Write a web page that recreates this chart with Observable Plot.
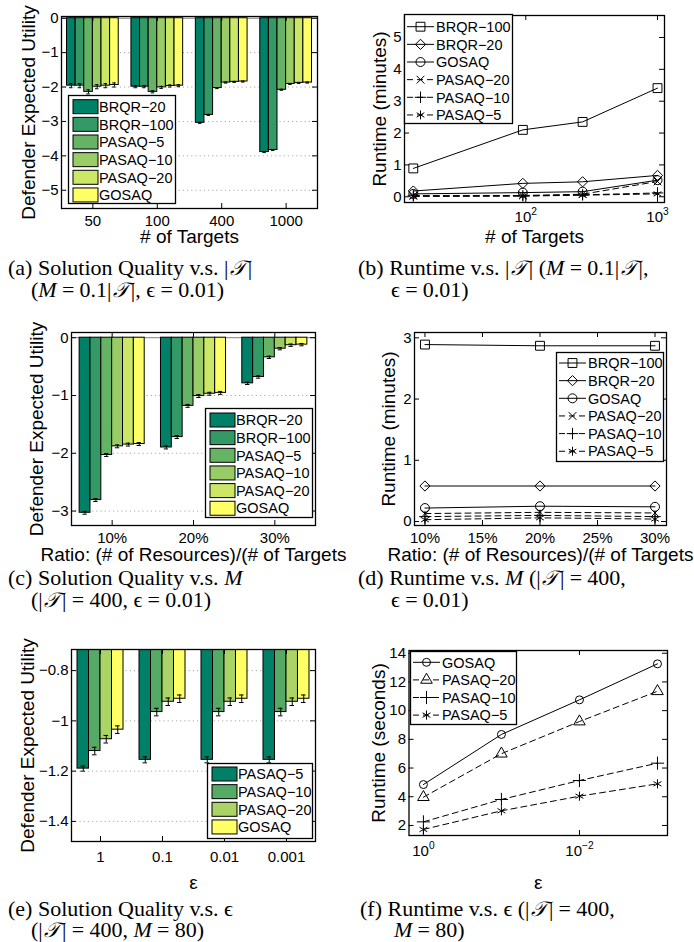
<!DOCTYPE html>
<html><head><meta charset="utf-8">
<script src="https://cdn.jsdelivr.net/npm/d3@7"></script>
<script src="https://cdn.jsdelivr.net/npm/@observablehq/plot@0.6"></script>
<style>
body{margin:0;background:#fff;}
#fig{position:relative;width:694px;height:942px;overflow:hidden;background:#fff;}
.cap{position:absolute;font-family:"Liberation Serif","Times New Roman",serif;font-size:22px;line-height:22px;white-space:nowrap;color:#000;}
.cal{font-family:"DejaVu Serif","Liberation Serif",serif;font-style:italic;font-size:0.95em;padding:0 0.08em;}
.eq{padding:0 0.24em;}
</style></head><body><div id="fig"></div><script>
// ---------------- DATA ----------------
// (a) solution quality vs # targets
const targetGroups = ["50", "100", "400", "1000"];
const seriesSix = ["BRQR−20", "BRQR−100", "PASAQ−5", "PASAQ−10", "PASAQ−20", "GOSAQ"];
const a_BRQR20  = [-1.96, -1.99, -3.04, -3.89];
const a_BRQR100 = [-1.96, -1.99, -2.81, -3.83];
const a_PASAQ5  = [-2.14, -2.14, -2.03, -2.08];
const a_PASAQ10 = [-1.99, -2.01, -1.87, -1.91];
const a_PASAQ20 = [-1.96, -1.97, -1.85, -1.88];
const a_GOSAQ   = [-1.94, -1.96, -1.84, -1.87];
const a_err     = [0.06, 0.03, 0.015, 0.015];

// (b) runtime (minutes) vs # targets (positions)
const b_x       = [14, 95, 270, 1000];
const b_BRQR100 = [0.89, 2.10, 2.35, 3.41];
const b_BRQR20  = [0.18, 0.42, 0.47, 0.67];
const b_GOSAQ   = [0.09, 0.13, 0.16, 0.52];
const b_PASAQ20 = [0.03, 0.04, 0.08, 0.48];
const b_PASAQ10 = [0.03, 0.03, 0.06, 0.12];
const b_PASAQ5  = [0.01, 0.02, 0.05, 0.09];

// (c) solution quality vs resource ratio
const ratioGroups = ["10%", "20%", "30%"];
const c_BRQR20  = [-3.03, -1.90, -0.79];
const c_BRQR100 = [-2.81, -1.72, -0.68];
const c_PASAQ5  = [-2.03, -1.18, -0.34];
const c_PASAQ10 = [-1.88, -1.01, -0.19];
const c_PASAQ20 = [-1.85, -0.97, -0.13];
const c_GOSAQ   = [-1.84, -0.955, -0.12];
const c_err     = [0.025, 0.025, 0.02];

// (d) runtime (minutes) vs resource ratio (%)
const d_x       = [10, 20, 30];
const d_BRQR100 = [2.89, 2.87, 2.87];
const d_BRQR20  = [0.58, 0.58, 0.58];
const d_GOSAQ   = [0.22, 0.25, 0.24];
const d_PASAQ20 = [0.13, 0.15, 0.14];
const d_PASAQ10 = [0.08, 0.10, 0.08];
const d_PASAQ5  = [0.03, 0.06, 0.04];

// (e) solution quality vs epsilon
const epsGroups = ["1", "0.1", "0.01", "0.001"];
const seriesFour = ["PASAQ−5", "PASAQ−10", "PASAQ−20", "GOSAQ"];
const e_PASAQ5  = [-1.19, -1.155, -1.155, -1.155];
const e_PASAQ10 = [-1.12, -0.965, -0.965, -0.965];
const e_PASAQ20 = [-1.073, -0.924, -0.924, -0.924];
const e_GOSAQ   = [-1.035, -0.912, -0.912, -0.912];
const e_err5    = [0.01, 0.012, 0.012, 0.012];
const e_errOther = [0.015, 0.015, 0.015, 0.015];

// (f) runtime (seconds) vs epsilon
const f_x       = [1, 0.1, 0.01, 0.001];
const f_GOSAQ   = [4.85, 8.34, 10.75, 13.26];
const f_PASAQ20 = [3.97, 7.0, 9.24, 11.35];
const f_PASAQ10 = [2.25, 3.81, 5.13, 6.34];
const f_PASAQ5  = [1.72, 3.02, 4.04, 4.90];

// colours (MATLAB "summer" map)
const sixColors  = ["#008066", "#339966", "#66b366", "#99cc66", "#cce666", "#ffff66"];
const fourColors = ["#008066", "#55aa66", "#aad466", "#ffff66"];

// ---------------- HELPERS ----------------
const FONT = '"Liberation Sans", Arial, Helvetica, sans-serif';
const fig = document.getElementById("fig");
function place(el, left, top) {
  el.style.position = "absolute"; el.style.left = left + "px"; el.style.top = top + "px";
  fig.appendChild(el);
}
function base(width, height, m) {
  return {width, height, marginTop: m[0], marginRight: m[1], marginBottom: m[2], marginLeft: m[3],
    style: {fontFamily: FONT, fontSize: "15px", background: "transparent", overflow: "visible", color: "black"}};
}
function inward(xTicks, yTicks, fw, fh, len = 5) {
  return [
    Plot.ruleX(xTicks, {x: d => d, insetTop: fh - len, stroke: "black"}),
    Plot.ruleX(xTicks, {x: d => d, insetBottom: fh - len, stroke: "black"}),
    Plot.ruleY(yTicks, {y: d => d, insetRight: fw - len, stroke: "black"}),
    Plot.ruleY(yTicks, {y: d => d, insetLeft: fw - len, stroke: "black"})
  ];
}
const fmtNum = d => String(d).replace("-", "−");
function superscripts(svg) {
  svg.querySelectorAll("text").forEach(t => {
    const mm = /^10\^(.+)$/.exec(t.textContent);
    if (mm) {
      t.textContent = "";
      const a = document.createElementNS("http://www.w3.org/2000/svg", "tspan");
      a.textContent = "10";
      const b = document.createElementNS("http://www.w3.org/2000/svg", "tspan");
      b.textContent = mm[1]; b.setAttribute("dy", "-0.75em"); b.setAttribute("font-size", "0.68em");
      t.appendChild(a); t.appendChild(b);
    }
  });
}
function labels(c) {
  return [
    Plot.text([c.xlabel], {text: d => d, frameAnchor: "bottom", textAnchor: "middle", lineAnchor: "middle", dy: c.xlabDy, fontSize: 19}),
    Plot.text([c.ylabel], {text: d => d, frameAnchor: "left", textAnchor: "middle", lineAnchor: "middle", dx: c.ylabDx, rotate: -90, fontSize: 19})
  ];
}

function barChart(c) {
  const n = c.series.length, bw = c.groupFrac / n;
  const rows = [];
  c.groups.forEach((g, gi) => c.series.forEach((s, si) => {
    const x1 = gi - c.groupFrac / 2 + si * bw;
    rows.push({s, x1, x2: x1 + bw, xc: x1 + bw / 2, v: c.values[si][gi], e: c.errs[si][gi]});
  }));
  const fw = c.width - c.m[1] - c.m[3], fh = c.height - c.m[0] - c.m[2];
  const idx = c.groups.map((_, i) => i);
  const cap = bw * 0.2;
  return Plot.plot({
    ...base(c.width, c.height, c.m),
    x: {domain: c.xDomain, axis: null},
    y: {domain: c.yDomain, axis: null},
    color: {domain: c.series, range: c.colors},
    marks: [
      Plot.ruleY(c.yTicks.filter(t => t !== 0), {y: d => d, stroke: "#a8a8a8", strokeDasharray: "1.2,3"}),
      Plot.ruleY(c.yTicks.filter(t => t === 0), {y: d => d, stroke: "#808080"}),
      Plot.rect(rows, {x1: "x1", x2: "x2", y1: 0, y2: "v", fill: "s", stroke: "black", strokeWidth: 1, clip: true}),
      Plot.ruleX(rows, {x: "xc", y1: d => d.v - d.e, y2: d => d.v + d.e, stroke: "black"}),
      Plot.ruleY(rows, {y: d => d.v - d.e, x1: d => d.xc - cap, x2: d => d.xc + cap, stroke: "black"}),
      Plot.ruleY(rows, {y: d => d.v + d.e, x1: d => d.xc - cap, x2: d => d.xc + cap, stroke: "black"}),
      ...inward(idx, c.yTicks, fw, fh),
      Plot.frame({stroke: "black", strokeWidth: 1.3}),
      Plot.axisX(idx, {tickFormat: i => c.groups[i], tickSize: 0, tickPadding: c.xTickPad, label: null}),
      Plot.axisY(c.yTicks, {tickFormat: fmtNum, tickSize: 0, tickPadding: 3, label: null}),
      ...labels(c)
    ]
  });
}

function lineChart(c) {
  const fw = c.width - c.m[1] - c.m[3], fh = c.height - c.m[0] - c.m[2];
  const marks = [];
  c.series.forEach(s => {
    const rows = c.x.map((xv, i) => ({x: xv, y: s.values[i]}));
    marks.push(Plot.line(rows, {x: "x", y: "y", stroke: "black", strokeWidth: 1, strokeDasharray: s.dash ? "6,4" : null}));
    marks.push(Plot.dot(rows, {x: "x", y: "y", symbol: s.symbol, r: s.r, stroke: "black", fill: "none", strokeWidth: 1}));
  });
  const svg = Plot.plot({
    ...base(c.width, c.height, c.m),
    x: {type: c.xType, domain: c.xDomain, axis: null},
    y: {domain: c.yDomain, axis: null},
    marks: [
      ...marks,
      ...inward(c.xTicks, c.yTicks, fw, fh),
      Plot.frame({stroke: "black", strokeWidth: 1.3}),
      Plot.axisX(c.xTicks, {tickFormat: c.xFormat, tickSize: 0, tickPadding: c.xTickPad, label: null}),
      Plot.axisY(c.yTicks, {tickFormat: fmtNum, tickSize: 0, tickPadding: 3, label: null}),
      ...labels(c)
    ]
  });
  superscripts(svg);
  return svg;
}

const symbolMap = {square: d3.symbolSquare, diamond2: d3.symbolDiamond2, circle: d3.symbolCircle,
  times: d3.symbolTimes, plus: d3.symbolPlus, asterisk: d3.symbolAsterisk, triangle: d3.symbolTriangle};
function legend(L) {
  const ns = "http://www.w3.org/2000/svg";
  const svg = document.createElementNS(ns, "svg");
  svg.setAttribute("width", L.w); svg.setAttribute("height", L.h);
  svg.style.overflow = "visible";
  let html = `<rect x="0.5" y="0.5" width="${L.w - 1}" height="${L.h - 1}" fill="white" stroke="black" stroke-width="1.3"/>`;
  L.entries.forEach((e, i) => {
    const y = L.y0 + i * L.dy;
    if (e.color) {
      html += `<rect x="5" y="${y - 7}" width="25" height="14" fill="${e.color}" stroke="black" stroke-width="1"/>`;
      html += `<text x="31" y="${y}" dy="0.36em" font-size="14.5" font-family='${FONT}'>${e.label}</text>`;
    } else {
      html += `<line x1="3" x2="30" y1="${y}" y2="${y}" stroke="black" ${e.dash ? 'stroke-dasharray="6,4"' : ""}/>`;
      const p = d3.symbol(symbolMap[e.symbol], Math.PI * e.r * e.r)();
      html += `<path d="${p}" transform="translate(16.5,${y})" fill="none" stroke="black"/>`;
      html += `<text x="32" y="${y}" dy="0.36em" font-size="14.5" font-family='${FONT}'>${e.label}</text>`;
    }
  });
  svg.innerHTML = html;
  place(svg, L.left, L.top);
}
function caption(html, left, centerY) {
  const d = document.createElement("div");
  d.className = "cap"; d.innerHTML = html;
  place(d, left, centerY - 11);
}

// ---------------- PANELS ----------------
// (a)
place(barChart({
  width: 347, height: 250, m: [16, 30, 42, 61],
  groups: targetGroups, series: seriesSix, colors: sixColors,
  values: [a_BRQR20, a_BRQR100, a_PASAQ5, a_PASAQ10, a_PASAQ20, a_GOSAQ],
  errs: seriesSix.map(() => a_err),
  groupFrac: 0.803, xDomain: [-0.487, 3.487],
  yDomain: [-5.53, 0.05], yTicks: [0, -1, -2, -3, -4, -5],
  xTickPad: 6.5, xlabel: "# of Targets", xlabDy: 28,
  ylabel: "Defender Expected Utility", ylabDx: -33
}), 0, 0);
legend({left: 68, top: 95, w: 108, h: 109, y0: 11.7, dy: 17.65,
  entries: seriesSix.map((s, i) => ({label: s, color: sixColors[i]}))});

// (b)
const lineSeriesB = [
  {name: "BRQR−100", values: b_BRQR100, symbol: "square", r: 5, dash: false},
  {name: "BRQR−20", values: b_BRQR20, symbol: "diamond2", r: 4.6, dash: false},
  {name: "GOSAQ", values: b_GOSAQ, symbol: "circle", r: 4.5, dash: false},
  {name: "PASAQ−20", values: b_PASAQ20, symbol: "times", r: 3.6, dash: true},
  {name: "PASAQ−10", values: b_PASAQ10, symbol: "plus", r: 3.8, dash: true},
  {name: "PASAQ−5", values: b_PASAQ5, symbol: "asterisk", r: 4.2, dash: true}
];
place(lineChart({
  width: 347, height: 250, m: [15, 30, 48, 57],
  x: b_x, series: lineSeriesB, xType: "log", xDomain: [12, 1130],
  xTicks: [100, 1000], xFormat: d => d === 100 ? "10^2" : "10^3",
  yDomain: [-0.18, 5.69], yTicks: [0, 1, 2, 3, 4, 5],
  xTickPad: 9, xlabel: "# of Targets", xlabDy: 34,
  ylabel: "Runtime (minutes)", ylabDx: -25
}), 347, 0);
legend({left: 404, top: 14, w: 109, h: 110, y0: 12.7, dy: 17.65,
  entries: lineSeriesB.map(s => ({label: s.name, symbol: s.symbol, r: s.r, dash: s.dash}))});

// (c)
place(barChart({
  width: 347, height: 250, m: [22, 32, 35, 71],
  groups: ratioGroups, series: seriesSix, colors: sixColors,
  values: [c_BRQR20, c_BRQR100, c_PASAQ5, c_PASAQ10, c_PASAQ20, c_GOSAQ],
  errs: seriesSix.map(() => c_err),
  groupFrac: 0.8, xDomain: [-0.5, 2.5],
  yDomain: [-3.25, 0.09], yTicks: [0, -1, -2, -3],
  xTickPad: 6.5, xlabel: "Ratio: (# of Resources)/(# of Targets", xlabDy: 29,
  ylabel: "Defender Expected Utility", ylabDx: -35
}), 0, 310);
legend({left: 205, top: 408, w: 108, h: 110, y0: 12, dy: 17.65,
  entries: seriesSix.map((s, i) => ({label: s, color: sixColors[i]}))});

// (d)
const lineSeriesD = [
  {name: "BRQR−100", values: d_BRQR100, symbol: "square", r: 5, dash: false},
  {name: "BRQR−20", values: d_BRQR20, symbol: "diamond2", r: 4.6, dash: false},
  {name: "GOSAQ", values: d_GOSAQ, symbol: "circle", r: 4.5, dash: false},
  {name: "PASAQ−20", values: d_PASAQ20, symbol: "times", r: 3.6, dash: true},
  {name: "PASAQ−10", values: d_PASAQ10, symbol: "plus", r: 3.8, dash: true},
  {name: "PASAQ−5", values: d_PASAQ5, symbol: "asterisk", r: 4.2, dash: true}
];
place(lineChart({
  width: 347, height: 250, m: [22, 28, 35, 67],
  x: d_x, series: lineSeriesD, xType: "linear", xDomain: [9.09, 31.0],
  xTicks: [10, 15, 20, 25, 30], xFormat: d => d + "%",
  yDomain: [-0.065, 3.087], yTicks: [0, 1, 2, 3],
  xTickPad: 6.5, xlabel: "Ratio: (# of Resources)/(# of Targets", xlabDy: 29,
  ylabel: "Runtime (minutes)", ylabDx: -26
}), 347, 310);
legend({left: 556, top: 352, w: 108, h: 110, y0: 11, dy: 17.65,
  entries: lineSeriesD.map(s => ({label: s.name, symbol: s.symbol, r: s.r, dash: s.dash}))});

// (e)
place(barChart({
  width: 347, height: 260, m: [19, 32, 49, 71],
  groups: epsGroups, series: seriesFour, colors: fourColors,
  values: [e_PASAQ5, e_PASAQ10, e_PASAQ20, e_GOSAQ],
  errs: [e_err5, e_errOther, e_errOther, e_errOther],
  groupFrac: 0.742, xDomain: [-0.468, 3.468],
  yDomain: [-1.48, -0.716], yTicks: [-0.8, -1, -1.2, -1.4],
  xTickPad: 10, xlabel: "ε", xlabDy: 41,
  ylabel: "Defender Expected Utility", ylabDx: -44
}), 0, 630);
legend({left: 207, top: 763, w: 106, h: 76, y0: 11, dy: 17.65,
  entries: seriesFour.map((s, i) => ({label: s, color: fourColors[i]}))});

// (f)
const lineSeriesF = [
  {name: "GOSAQ", values: f_GOSAQ, symbol: "circle", r: 4, dash: false},
  {name: "PASAQ−20", values: f_PASAQ20, symbol: "triangle", r: 4.3, dash: true},
  {name: "PASAQ−10", values: f_PASAQ10, symbol: "plus", r: 4.3, dash: true},
  {name: "PASAQ−5", values: f_PASAQ5, symbol: "asterisk", r: 4.3, dash: true}
];
place(lineChart({
  width: 347, height: 260, m: [20, 27, 55, 61.5],
  x: f_x, series: lineSeriesF, xType: "log", xDomain: [1.53, 0.000744],
  xTicks: [1, 0.01], xFormat: d => d === 1 ? "10^0" : "10^−2",
  yDomain: [1.3, 14.19], yTicks: [2, 4, 6, 8, 10, 12, 14],
  xTickPad: 10, xlabel: "ε", xlabDy: 47,
  ylabel: "Runtime (seconds)", ylabDx: -30
}), 347, 630);
legend({left: 410, top: 651, w: 107, h: 74, y0: 11.3, dy: 17.6,
  entries: lineSeriesF.map(s => ({label: s.name, symbol: s.symbol, r: s.r, dash: s.dash}))});

// ---------------- CAPTIONS ----------------
const T = '<span class="cal">𝒯</span>';
const EQ = '<span class="eq">=</span>';
caption(`(a) Solution Quality v.s. |${T}|`, 8, 268);
caption(`(<i>M</i>${EQ}0.1|${T}|, ϵ${EQ}0.01)`, 31, 290);
caption(`(b) Runtime v.s. |${T}| (<i>M</i>${EQ}0.1|${T}|,`, 358, 268);
caption(`ϵ${EQ}0.01)`, 391, 290);
caption(`(c) Solution Quality v.s. <i>M</i>`, 8, 578);
caption(`(|${T}|${EQ}400, ϵ${EQ}0.01)`, 31, 600);
caption(`(d) Runtime v.s. <i>M</i> (|${T}|${EQ}400,`, 358, 578);
caption(`ϵ${EQ}0.01)`, 391, 600);
caption(`(e) Solution Quality v.s. ϵ`, 8, 909);
caption(`(|${T}|${EQ}400, <i>M</i>${EQ}80)`, 31, 930);
caption(`(f) Runtime v.s. ϵ (|${T}|${EQ}400,`, 360, 909);
caption(`<i>M</i>${EQ}80)`, 394, 930);
</script></body></html>
